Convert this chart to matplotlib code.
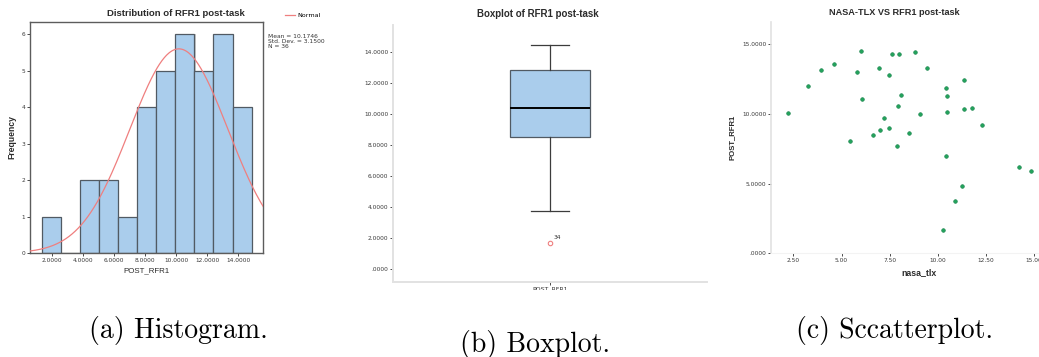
import matplotlib

matplotlib.use("Agg")
import matplotlib.pyplot as plt
import numpy as np
from matplotlib.transforms import Bbox

W, H = 1039, 357
SANS = "Liberation Sans"
INK = "#2b2b2b"
TICK = "#4a4a4a"
BLUE = "#aacdec"
EDGE = "#515a63"
RED = "#ef7f7f"
GREEN = "#23a35c"
AXIS = "#e2e2e2"

# --- histogram of POST_RFR1 ---
HIST_START = 1.355
HIST_WIDTH = 1.227
HIST_COUNTS = [1, 0, 2, 2, 1, 4, 5, 6, 5, 6, 4]
MEAN, SD, N = 10.1746, 3.1500, 36

# --- boxplot of POST_RFR1 ---
BOX_Q1, BOX_MED, BOX_Q3 = 8.53, 10.37, 12.87
BOX_LO, BOX_HI = 3.75, 14.50
OUTLIER = 1.65
OUTLIER_ID = "34"

# --- nasa_tlx vs POST_RFR1 ---
NASA_TLX = [2.21, 3.24, 3.92, 4.63, 5.42, 5.82, 6.01, 6.08, 6.62, 6.95, 7.02, 7.22,
            7.47, 7.48, 7.60, 7.88, 7.93, 8.00, 8.07, 8.52, 8.80, 9.06, 9.45, 10.25,
            10.44, 10.44, 10.49, 10.49, 10.89, 11.24, 11.36, 11.36, 11.76, 12.29,
            14.20, 14.84]
POST_RFR1 = [10.05, 12.01, 13.11, 13.56, 8.04, 13.01, 14.50, 11.08, 8.47, 13.28, 8.83,
             9.69, 12.75, 8.95, 14.31, 7.70, 10.53, 14.31, 11.32, 8.59, 14.43, 9.95,
             13.28, 1.65, 11.84, 6.96, 11.29, 10.14, 3.78, 4.83, 12.44, 10.36, 10.41,
             9.21, 6.15, 5.91]

CAPTIONS = ["(a) Histogram.", "(b) Boxplot.", "(c) Sccatterplot."]


def rect(l, t, r, b):
    """pixel box (left, top, right, bottom) -> figure fraction rect"""
    return [l / W, 1 - b / H, (r - l) / W, (b - t) / H]


def fmt4(v):
    s = f"{v:.4f}"
    return s[1:] if s.startswith("0") else s


def tick_style(ax, size=4.2):
    ax.tick_params(colors=TICK, labelcolor="#3a3a3a", labelsize=size,
                   length=2.5, width=0.7, pad=0.8)
    for lab in ax.get_xticklabels() + ax.get_yticklabels():
        lab.set_family("DejaVu Sans")


fig = plt.figure(figsize=(W / 100, H / 100), dpi=100, facecolor="white")

# ---- (a) histogram with normal curve ----
axA = fig.add_axes(rect(30, 22, 263, 253))
edges = HIST_START + HIST_WIDTH * np.arange(len(HIST_COUNTS) + 1)
axA.bar(edges[:-1] + 0.09, HIST_COUNTS, width=HIST_WIDTH, align="edge",
        color="#c9c9c9", linewidth=0, zorder=1)
axA.bar(edges[:-1], HIST_COUNTS, width=HIST_WIDTH, align="edge",
        color=BLUE, edgecolor=EDGE, linewidth=0.9, zorder=2)
xs = np.linspace(0.61, 15.6, 300)
curve = N * HIST_WIDTH / (SD * np.sqrt(2 * np.pi)) * np.exp(-0.5 * ((xs - MEAN) / SD) ** 2)
axA.plot(xs, curve, color=RED, lw=0.9, zorder=3, label="Normal")
axA.set_xlim(0.61, 15.58)
axA.set_ylim(0, 6.33)
axA.set_yticks(range(7))
axA.set_xticks(range(2, 15, 2), [fmt4(v) for v in range(2, 15, 2)])
for s in axA.spines.values():
    s.set_color("#5c5c5c")
    s.set_linewidth(1.0)
tick_style(axA)
axA.set_title("Distribution of RFR1 post-task", family=SANS, fontsize=6.8,
              fontweight="bold", color=INK, pad=4, x=0.627)
axA.set_ylabel("Frequency", family=SANS, fontsize=6.2, fontweight="bold", color=INK)
axA.yaxis.set_label_coords(-0.058, 0.5)
axA.set_xlabel("POST_RFR1", family=SANS, fontsize=5.7, color=INK)
axA.xaxis.set_label_coords(0.5, -0.062)
axA.legend(loc="center left", bbox_to_anchor=(285 / W, 1 - 15.5 / H),
           bbox_transform=fig.transFigure, frameon=False, fontsize=4.6,
           handlelength=1.6, handletextpad=0.4, borderaxespad=0, borderpad=0)
fig.text(268 / W, 1 - 34 / H, f"Mean = {MEAN:.4f}\nStd. Dev. = {SD:.4f}\nN = {N}",
         family="DejaVu Sans", fontsize=4.3, color="#333333", va="top",
         linespacing=0.95)

# ---- (b) boxplot ----
axB = fig.add_axes(rect(393, 25, 707, 282))
stats = [dict(med=BOX_MED, q1=BOX_Q1, q3=BOX_Q3, whislo=BOX_LO, whishi=BOX_HI,
              fliers=[OUTLIER])]
axB.bxp(stats, positions=[1], widths=0.252, capwidths=0.122, patch_artist=True,
        boxprops=dict(facecolor=BLUE, edgecolor=EDGE, linewidth=0.9),
        medianprops=dict(color="black", linewidth=1.4),
        whiskerprops=dict(color="#3c3c3c", linewidth=0.9),
        capprops=dict(color="#3c3c3c", linewidth=0.9),
        flierprops=dict(marker="o", markerfacecolor="none", markeredgecolor=RED,
                        markersize=3.2, markeredgewidth=0.8))
axB.text(1.011, OUTLIER + 0.2, OUTLIER_ID, family="DejaVu Sans", fontsize=4.3,
         color="#333333", va="bottom", ha="left")
axB.set_xlim(0.5, 1.5)
axB.set_ylim(-0.87, 15.77)
axB.set_yticks(range(0, 15, 2), [fmt4(v) for v in range(0, 15, 2)])
axB.set_xticks([1], [""])
for k in ("top", "right"):
    axB.spines[k].set_visible(False)
for k in ("left", "bottom"):
    axB.spines[k].set_color(AXIS)
    axB.spines[k].set_linewidth(1.4)
tick_style(axB)
axB.set_title("Boxplot of RFR1 post-task", family=SANS, fontsize=7.0,
              fontweight="bold", color=INK, pad=6, x=0.462)
# category label under the box, cut off by the bottom of the panel
cat = fig.text(550 / W, 1 - 286.5 / H, "POST_RFR1", family="DejaVu Sans",
               fontsize=4.5, color="#333333", ha="center", va="top")
cat.set_clip_box(Bbox.from_extents(0, H - 289.5, W, H))
cat.set_clip_on(True)

# ---- (c) scatter ----
axC = fig.add_axes(rect(771, 21.7, 1046, 253.3))
axC.scatter(NASA_TLX, POST_RFR1, s=7, color=GREEN, edgecolor="#17804a",
            linewidth=0.4, zorder=3)
axC.set_xlim(1.34, 15.61)
axC.set_ylim(0, 16.6)
axC.set_yticks([0, 5, 10, 15], [fmt4(v) for v in (0, 5, 10, 15)])
xt = [2.5, 5.0, 7.5, 10.0, 12.5, 15.0]
axC.set_xticks(xt, [f"{v:.2f}" for v in xt])
for k in ("top", "right"):
    axC.spines[k].set_visible(False)
axC.spines["left"].set_color(AXIS)
axC.spines["left"].set_linewidth(1.2)
axC.spines["bottom"].set_color("#f3f3f3")
axC.spines["bottom"].set_linewidth(0.8)
tick_style(axC)
axC.set_title("NASA-TLX VS RFR1 post-task", family=SANS, fontsize=6.6,
              fontweight="bold", color=INK, pad=4.5, x=0.45)
axC.set_ylabel("POST_RFR1", family=SANS, fontsize=5.6, fontweight="bold", color=INK)
axC.yaxis.set_label_coords(-0.13, 0.5)
axC.set_xlabel("nasa_tlx", family=SANS, fontsize=6.3, fontweight="bold", color=INK)
axC.xaxis.set_label_coords(0.537, -0.065)

# ---- sub-figure captions ----
for (cx, base), text in zip([(178, 338), (535, 352), (894, 338)], CAPTIONS):
    fig.text(cx / W, 1 - base / H, text, family="cmr10", fontsize=20,
             ha="center", va="baseline", color="black")

fig.savefig("out.png", dpi=100, facecolor="white")
